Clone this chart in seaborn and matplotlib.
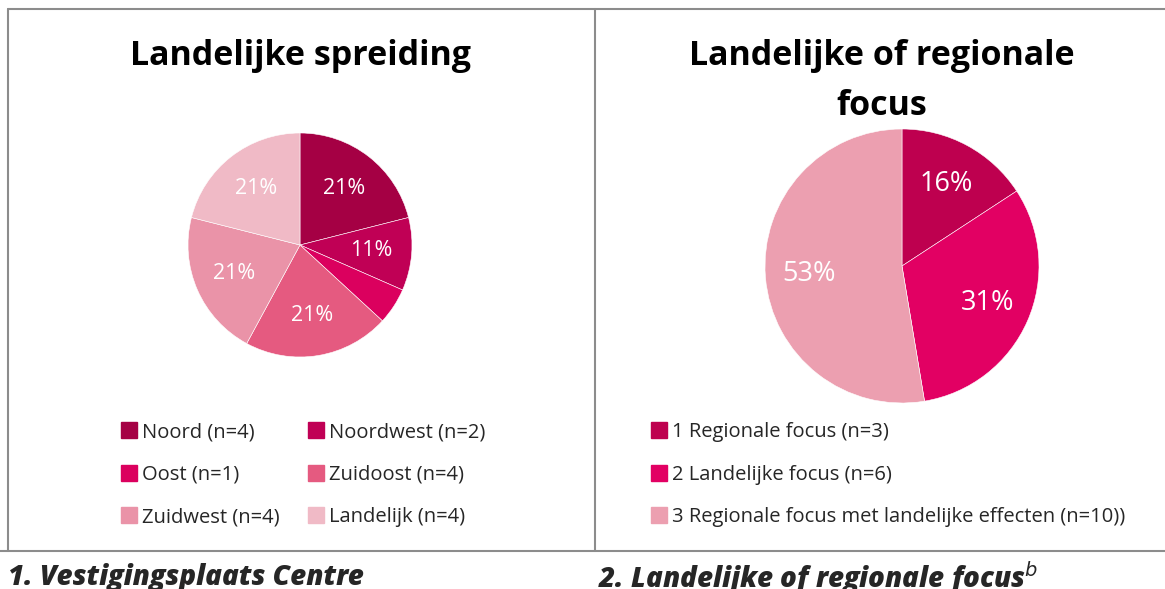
import numpy as np
import matplotlib
matplotlib.use("Agg")
import matplotlib.pyplot as plt
import seaborn as sns
from matplotlib.lines import Line2D

sns.set_theme(style="white")
plt.rcParams['font.family'] = ['Open Sans', 'DejaVu Sans']

# data
regio_labels = ['Noord (n=4)', 'Noordwest (n=2)', 'Oost (n=1)',
                'Zuidoost (n=4)', 'Zuidwest (n=4)', 'Landelijk (n=4)']
regio_counts = [4, 2, 1, 4, 4, 4]
regio_pct = ['21%', '11%', '', '21%', '21%', '21%']
regio_colors = ['#A50044', '#C00055', '#DB005E', '#E55A80', '#EA93A8', '#F0BAC6']

focus_labels = ['1 Regionale focus (n=3)', '2 Landelijke focus (n=6)',
                '3 Regionale focus met landelijke effecten (n=10))']
focus_counts = [3, 6, 10]
focus_pct = ['16%', '31%', '53%']
focus_colors = ['#BE004F', '#E20063', '#EC9FB0']

W, H = 1165, 589
fig = plt.figure(figsize=(W / 100, H / 100), dpi=100)
fig.patch.set_facecolor('white')


def px(x, y):
    return x / W, 1 - y / H


border = '#8c8c8c'
for (x0, y0, x1, y1) in [(8, 9, 1165, 9), (8, 9, 8, 551), (595, 9, 595, 551), (0, 551, 1165, 551)]:
    a, b = px(x0, y0)
    c, d = px(x1, y1)
    fig.add_artist(Line2D([a, c], [b, d], color=border, lw=1.5, transform=fig.transFigure))


def draw_pie(ax, counts, colors, pct, dist, fs):
    wedges, _ = ax.pie(counts, colors=colors, startangle=90, counterclock=False,
                       wedgeprops=dict(edgecolor='white', linewidth=0.4))
    for w, lab in zip(wedges, pct):
        ang = np.deg2rad((w.theta1 + w.theta2) / 2)
        ax.text(dist * np.cos(ang), dist * np.sin(ang), lab, ha='center', va='center',
                color='white', fontsize=fs)
    ax.set_xlim(-1, 1)
    ax.set_ylim(-1, 1)
    ax.set_aspect('equal')
    ax.axis('off')


# left pie
r1 = 112
ax1 = fig.add_axes([(300 - r1) / W, 1 - (245 + r1) / H, 2 * r1 / W, 2 * r1 / H])
draw_pie(ax1, regio_counts, regio_colors, regio_pct, 0.64, 15.5)
fig.text(300 / W, 1 - 56 / H, 'Landelijke spreiding', ha='center', va='center',
         fontsize=24.5, fontweight='bold', color='black')

# right pie
r2 = 137
ax2 = fig.add_axes([(902 - r2) / W, 1 - (266 + r2) / H, 2 * r2 / W, 2 * r2 / H])
draw_pie(ax2, focus_counts, focus_colors, focus_pct, 0.68, 19.5)
fig.text(882 / W, 1 - 56 / H, 'Landelijke of regionale', ha='center', va='center',
         fontsize=24.5, fontweight='bold', color='black')
fig.text(882 / W, 1 - 106 / H, 'focus', ha='center', va='center',
         fontsize=24.5, fontweight='bold', color='black')


def handles(colors):
    return [Line2D([0], [0], marker='s', linestyle='', markersize=11,
                   markerfacecolor=c, markeredgecolor=c) for c in colors]


# row-major order for the two-column legend
order = [0, 2, 4, 1, 3, 5]
fig.legend([handles(regio_colors)[i] for i in order], [regio_labels[i] for i in order],
           ncol=2, loc='upper left', bbox_to_anchor=px(111, 414), frameon=False,
           fontsize=14.5, handletextpad=0.15, columnspacing=1.3, labelspacing=1.12,
           handlelength=1.0, borderaxespad=0)
fig.legend(handles(focus_colors), focus_labels, ncol=1, loc='upper left',
           bbox_to_anchor=px(641, 414), frameon=False, fontsize=14.5,
           handletextpad=0.15, labelspacing=1.12, handlelength=1.0, borderaxespad=0)

# captions
fig.text(8 / W, 1 - 578 / H, '1. Vestigingsplaats Centre', ha='left', va='center',
         fontsize=20, fontweight='heavy', fontstyle='italic')
fig.text(598 / W, 1 - 578 / H, '2. Landelijke of regionale focus$^{\\it b}$', ha='left', va='center',
         fontsize=20, fontweight='heavy', fontstyle='italic')

fig.savefig('out.png', dpi=100, facecolor='white')
